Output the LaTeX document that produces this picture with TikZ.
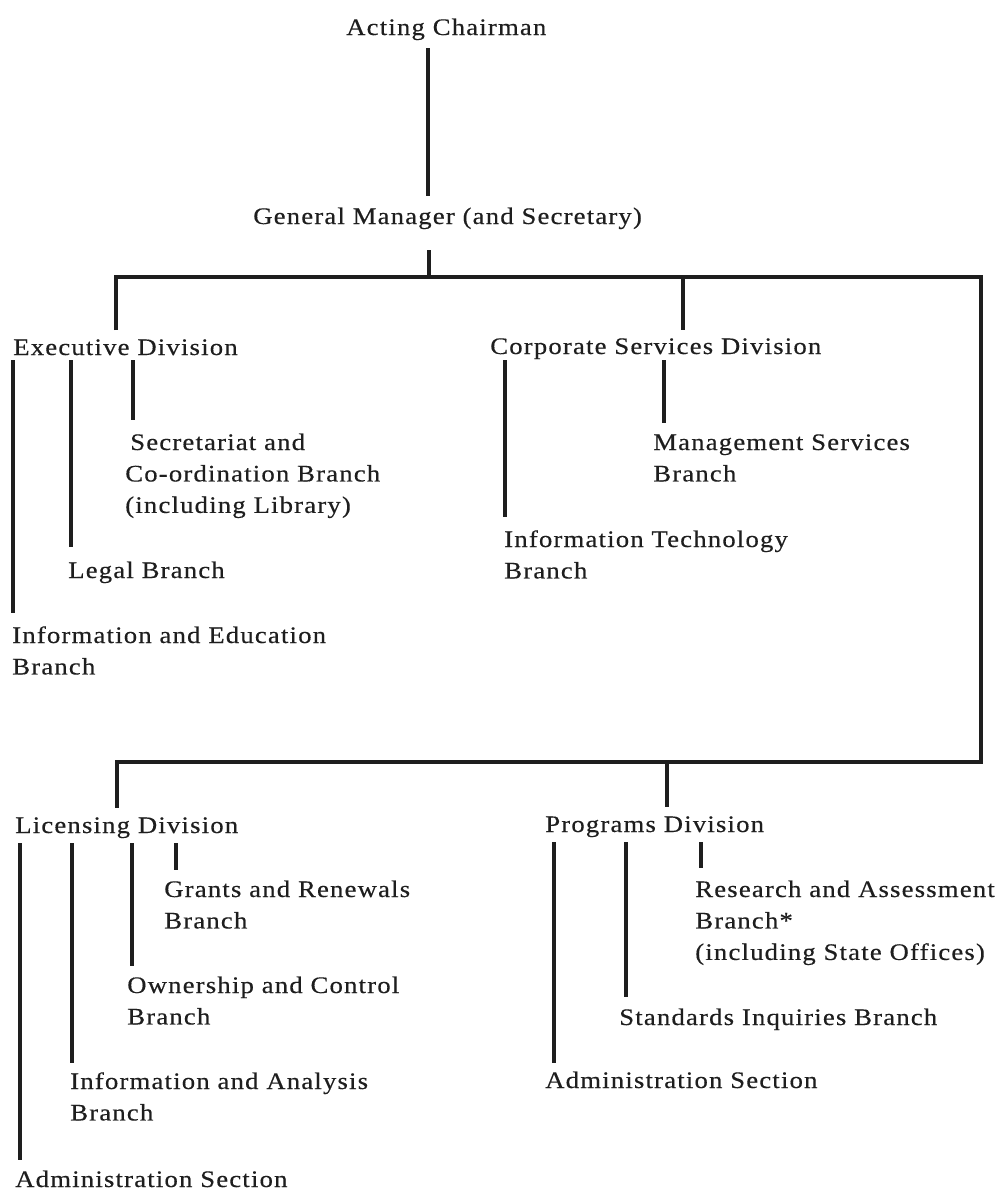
\documentclass[tikz,border=0pt]{standalone}
\usepackage{fontspec}
\setmainfont{Liberation Serif}[FakeStretch=1.125, LetterSpace=5, FakeBold=0.4]
\usetikzlibrary{calc}
\definecolor{ink}{HTML}{1E1E1E}
% stacked label lines, baseline on the first line
\newcommand\txtrows[1]{\begin{tabular}[t]{@{}l@{}}#1\end{tabular}}

\begin{document}
\begin{tikzpicture}[x=0.75pt,y=-0.75pt,
  lbl/.style={anchor=base west, inner sep=0pt, text=ink,
    font=\fontsize{17.8}{23.6}\selectfont},
  main/.style={draw=ink, line width=3.6pt},
  mid/.style={draw=ink, line width=3pt},
  sub/.style={draw=ink, line width=2.3pt},
]
\useasboundingbox (0,0) rectangle (1006,1192);

% ---- labels ----
\node[lbl] (ac)   at (346,35)  {\txtrows{Acting Chairman}};
\node[lbl] (gm)   at (253,224) {\txtrows{General Manager (and Secretary)}};

\node[lbl] (exd)     at (13,355)  {\txtrows{Executive Division}};
\node[lbl] (secr)    at (125,450) {\txtrows{\hspace{3.75pt}Secretariat and\\Co-ordination Branch\\(including Library)}};
\node[lbl] (legal)   at (68,578)  {\txtrows{Legal Branch}};
\node[lbl] (infoedu) at (12,643)  {\txtrows{Information and Education\\Branch}};

\node[lbl] (csd)  at (490,354) {\txtrows{Corporate Services Division}};
\node[lbl] (mgmt) at (653,450) {\txtrows{Management Services\\Branch}};
\node[lbl] (itb)  at (504,547) {\txtrows{Information Technology\\Branch}};

\node[lbl] (lic)    at (15,833)   {\txtrows{Licensing Division}};
\node[lbl] (grants) at (164,897)  {\txtrows{Grants and Renewals\\Branch}};
\node[lbl] (owner)  at (127,993)  {\txtrows{Ownership and Control\\Branch}};
\node[lbl] (infoan) at (70,1089)  {\txtrows{Information and Analysis\\Branch}};
\node[lbl] (adminl) at (15,1187)  {\txtrows{Administration Section}};

\node[lbl] (prog)      at (545,832)  {\txtrows{Programs Division}};
\node[lbl] (research)  at (695,897)  {\txtrows{Research and Assessment\\Branch*\\(including State Offices)}};
\node[lbl] (standards) at (619,1025) {\txtrows{Standards Inquiries Branch}};
\node[lbl] (adminp)    at (545,1088) {\txtrows{Administration Section}};

% ---- junctions of the main frame ----
\coordinate (tg) at (429,277);
\coordinate (tl) at (116,277);
\coordinate (tc) at (683,277);
\coordinate (tr) at (981,277);
\coordinate (br) at (981,762);
\coordinate (bl) at (117,762);
\coordinate (bp) at (667,762);

% ---- main structure ----
\draw[mid]  ($(ac.base -| 428,0)+(0,13)$) -- ($(gm.base -| 428,0)+(0,-28)$);
\draw[main] ($(gm.base -| tg)+(0,26)$) -- (tg);
\draw[main] ($(exd.base -| tl)+(0,-25)$) -- (tl) -- (tr) -- (br) -- (bl)
            -- ($(lic.base -| bl)+(0,-25)$);
\draw[main] (tc) -- ($(csd.base -| tc)+(0,-24)$);
\draw[main] (bp) -- ($(prog.base -| bp)+(0,-25)$);

% ---- Executive Division branches ----
\draw[sub] ($(exd.base -| 13,0)+(0,5)$)  -- ($(infoedu.base -| 13,0)+(0,-30)$);
\draw[sub] ($(exd.base -| 71,0)+(0,5)$)  -- ($(legal.base -| 71,0)+(0,-31)$);
\draw[sub] ($(exd.base -| 133,0)+(0,5)$) -- ($(secr.base -| 133,0)+(0,-30)$);

% ---- Corporate Services Division branches ----
\draw[sub] ($(csd.base -| 505,0)+(0,6)$) -- ($(itb.base -| 505,0)+(0,-30)$);
\draw[sub] ($(csd.base -| 664,0)+(0,6)$) -- ($(mgmt.base -| 664,0)+(0,-27)$);

% ---- Licensing Division branches ----
\draw[sub] ($(lic.base -| 20,0)+(0,10)$)  -- ($(adminl.base -| 20,0)+(0,-27)$);
\draw[sub] ($(lic.base -| 72,0)+(0,10)$)  -- ($(infoan.base -| 72,0)+(0,-26)$);
\draw[sub] ($(lic.base -| 132,0)+(0,10)$) -- ($(owner.base -| 132,0)+(0,-27)$);
\draw[sub] ($(lic.base -| 176,0)+(0,10)$) -- ($(grants.base -| 176,0)+(0,-27)$);

% ---- Programs Division branches ----
\draw[sub] ($(prog.base -| 554,0)+(0,10)$) -- ($(adminp.base -| 554,0)+(0,-25)$);
\draw[sub] ($(prog.base -| 626,0)+(0,10)$) -- ($(standards.base -| 626,0)+(0,-28)$);
\draw[sub] ($(prog.base -| 701,0)+(0,10)$) -- ($(research.base -| 701,0)+(0,-29)$);
\end{tikzpicture}
\end{document}
